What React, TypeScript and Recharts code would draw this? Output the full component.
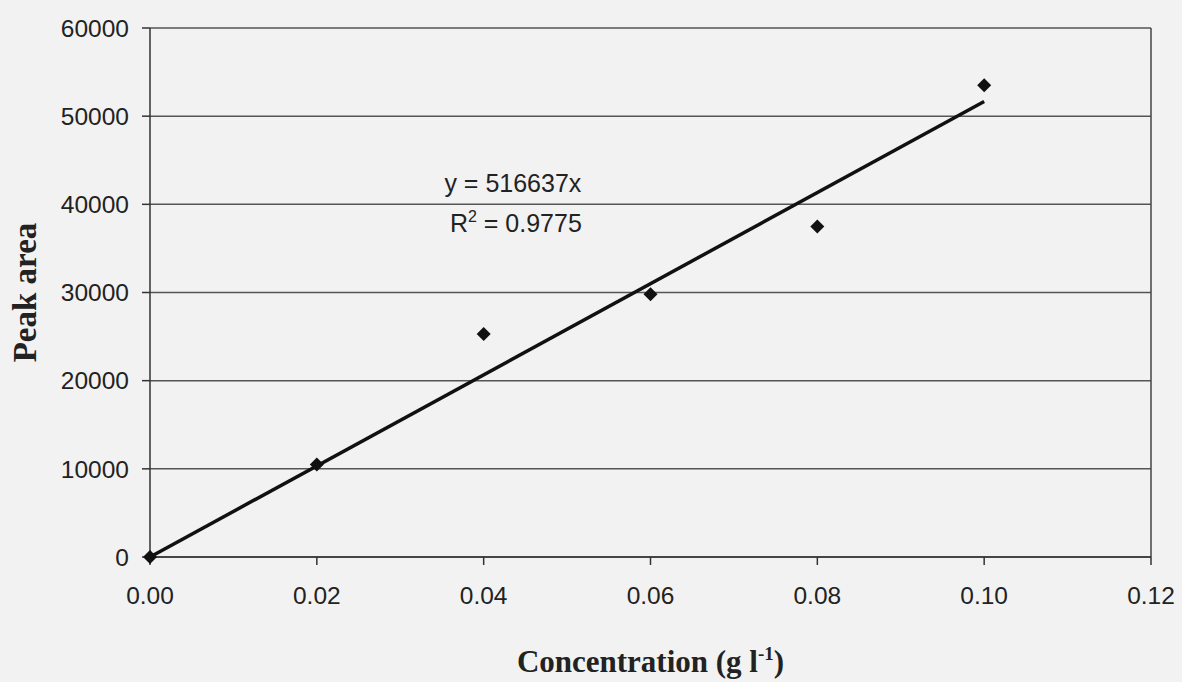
import React from 'react';
import {
  ScatterChart,
  Scatter,
  XAxis,
  YAxis,
  CartesianGrid,
  ReferenceLine,
  ReferenceDot,
  Label,
} from 'recharts';

// ---- data ----
const concentration = [0, 0.02, 0.04, 0.06, 0.08, 0.1];
const peakArea = [0, 10500, 25300, 29800, 37500, 53500];
const trendX = [0, 0.1];
const trendY = [0, 51664];
const xTicks = [0, 0.02, 0.04, 0.06, 0.08, 0.1, 0.12];
const yTicks = [0, 10000, 20000, 30000, 40000, 50000, 60000];
const equationText = 'y = 516637x';
const r2Value = '0.9775';
const xTitle = 'Concentration (g l';
const yTitle = 'Peak area';

const points = concentration.map((x, i) => ({ x, y: peakArea[i] }));
const trend = trendX.map((x, i) => ({ x, y: trendY[i] }));

const SANS = '"Liberation Sans", Arial, sans-serif';
const SERIF = '"Liberation Serif", "Times New Roman", serif';

const Diamond = (props: any) => {
  const { cx, cy } = props;
  const r = 7;
  return (
    <polygon
      points={`${cx},${cy - r} ${cx + r},${cy} ${cx},${cy + r} ${cx - r},${cy}`}
      fill="#111"
    />
  );
};

const NoShape = () => <g />;

export default function App() {
  return (
    <div style={{ position: 'absolute', left: 0, top: 0, width: 1182, height: 682, background: '#f2f2f2' }}>
      <ScatterChart
        width={1182}
        height={682}
        margin={{ top: 28, right: 31, left: 0, bottom: 0 }}
      >
        <CartesianGrid vertical={false} stroke="#555" strokeWidth={1.5} />
        <XAxis
          type="number"
          dataKey="x"
          domain={[0, 0.12]}
          ticks={xTicks}
          interval={0}
          height={125}
          tickFormatter={(v: number) => v.toFixed(2)}
          tickSize={8}
          tickMargin={22}
          stroke="#333"
          strokeWidth={1.5}
          tick={{ fill: '#222', fontSize: 24.5, fontFamily: SANS }}
          label={{
            content: (p: any) => {
              const vb = p.viewBox;
              return (
                <text
                  x={vb.x + vb.width / 2}
                  y={vb.y + 115}
                  textAnchor="middle"
                  fontFamily={SERIF}
                  fontWeight="bold"
                  fontSize={31}
                  fill="#222"
                >
                  {xTitle}
                  <tspan dy={-12} fontSize={19}>-1</tspan>
                  <tspan dy={12}>)</tspan>
                </text>
              );
            },
          }}
        />
        <YAxis
          type="number"
          dataKey="y"
          domain={[0, 60000]}
          ticks={yTicks}
          interval={0}
          width={150}
          tickSize={8}
          tickMargin={13}
          stroke="#333"
          strokeWidth={1.5}
          tick={{ fill: '#222', fontSize: 24.5, fontFamily: SANS }}
          label={{
            content: (p: any) => {
              const vb = p.viewBox;
              const cx = vb.x + 25;
              const cy = vb.y + vb.height / 2;
              return (
                <text
                  x={cx}
                  y={cy}
                  transform={`rotate(-90, ${cx}, ${cy})`}
                  textAnchor="middle"
                  dominantBaseline="central"
                  fontFamily={SERIF}
                  fontWeight="bold"
                  fontSize={33}
                  fill="#222"
                >
                  {yTitle}
                </text>
              );
            },
          }}
        />
        <ReferenceLine x={0.12} stroke="#444" strokeWidth={1.5} />
        <Scatter
          data={trend}
          line={{ stroke: '#111', strokeWidth: 3.5 }}
          shape={NoShape}
          isAnimationActive={false}
        />
        <Scatter data={points} shape={Diamond} isAnimationActive={false} />
        <ReferenceDot x={0.0435} y={40000} r={0} fill="none" stroke="none">
          <Label
            content={(p: any) => {
              const vb = p.viewBox;
              const cx = vb.x + vb.width / 2;
              const cy = vb.y + vb.height / 2;
              return (
                <g fontFamily={SANS} fontSize={25} fill="#222">
                  <text x={cx} y={cy - 12} textAnchor="middle">
                    {equationText}
                  </text>
                  <text x={cx + 3} y={cy + 28} textAnchor="middle">
                    R<tspan dy={-10} fontSize={16}>2</tspan>
                    <tspan dy={10}>{` = ${r2Value}`}</tspan>
                  </text>
                </g>
              );
            }}
          />
        </ReferenceDot>
      </ScatterChart>
    </div>
  );
}
